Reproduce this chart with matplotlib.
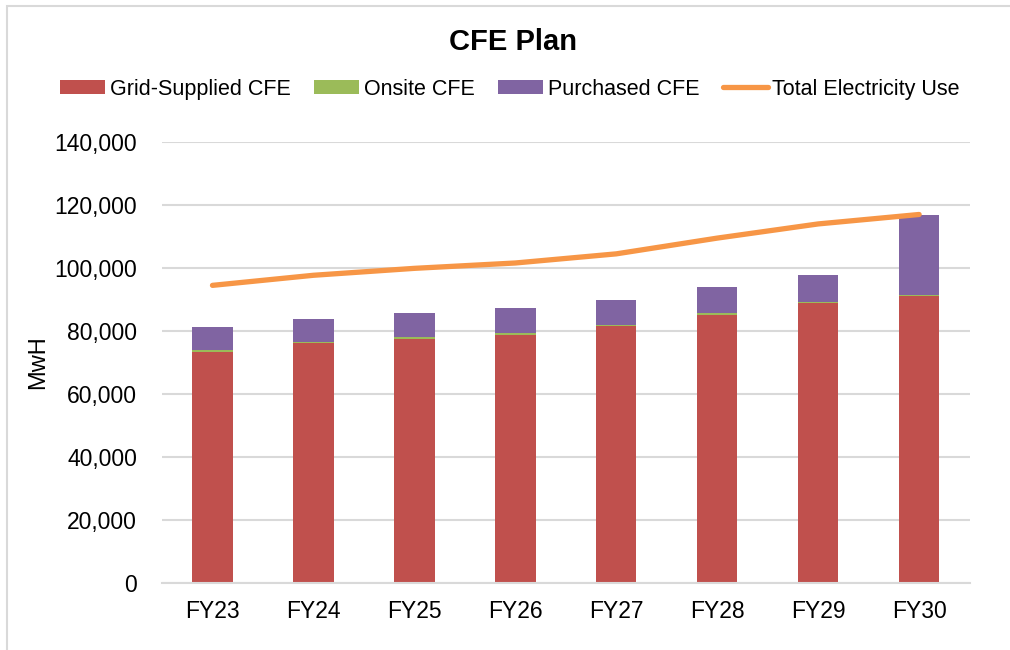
import numpy as np
import matplotlib.pyplot as plt
from matplotlib.patches import Rectangle
from matplotlib.ticker import FuncFormatter

plt.rcParams['font.family'] = ['Liberation Sans', 'DejaVu Sans']

years = ["FY23", "FY24", "FY25", "FY26", "FY27", "FY28", "FY29", "FY30"]
grid_cfe = [73500, 76300, 77600, 78800, 81700, 85100, 88900, 91100]
onsite_cfe = [400, 200, 400, 500, 200, 500, 200, 200]
purchased_cfe = [7400, 7400, 7600, 7900, 7900, 8500, 8600, 25600]
total_use = [94500, 97700, 99900, 101600, 104500, 109500, 114000, 117000]

fig = plt.figure(figsize=(10.1, 6.5), dpi=100)
ax = fig.add_axes([0.1604, 0.103, 0.7996, 0.6785])

# chart frame
fig.patches.append(Rectangle((7 / 1010, -0.01), 1.0, 1 - 6 / 650 + 0.01, transform=fig.transFigure,
                             fill=False, edgecolor='#D9D9D9', linewidth=1.5))

x = np.arange(len(years))
w = 0.4
grid_a = np.array(grid_cfe)
onsite_a = np.array(onsite_cfe)
b1 = ax.bar(x, grid_cfe, w, color='#C0504D', label='Grid-Supplied CFE', zorder=2)
b2 = ax.bar(x, onsite_cfe, w, bottom=grid_a, color='#9BBB59', label='Onsite CFE', zorder=2)
b3 = ax.bar(x, purchased_cfe, w, bottom=grid_a + onsite_a, color='#8064A2', label='Purchased CFE', zorder=2)
l1, = ax.plot(x, total_use, color='#F79646', linewidth=3.8, label='Total Electricity Use',
              solid_capstyle='round', zorder=3)

ax.set_xlim(-0.5, 7.5)
ax.set_ylim(0, 140000)
ax.set_yticks(range(0, 140001, 20000))
ax.yaxis.set_major_formatter(FuncFormatter(lambda v, p: f"{int(v):,}"))
ax.set_xticks(x)
ax.set_xticklabels(years)
ax.tick_params(axis='both', length=0, labelsize=16.5, labelcolor='#000000')
ax.tick_params(axis='y', pad=18)
ax.tick_params(axis='x', pad=12)
ax.grid(axis='y', color='#D9D9D9', linewidth=1.5, zorder=0)
ax.set_axisbelow(True)
for s in ['top', 'right', 'left']:
    ax.spines[s].set_visible(False)
ax.spines['bottom'].set_color('#D9D9D9')
ax.spines['bottom'].set_linewidth(1.5)
ax.set_ylabel("MwH", fontsize=17)
ax.yaxis.set_label_coords(-0.14, 0.5)

fig.text(0.508, 0.935, "CFE Plan", ha='center', va='center', fontsize=21, fontweight='bold')
fig.legend([b1, b2, b3, l1], [h.get_label() for h in [b1, b2, b3, l1]],
           loc='center', bbox_to_anchor=(0.505, 0.863), ncol=4, frameon=False, fontsize=15.5,
           handlelength=2.1, handleheight=0.6, handletextpad=0.2, columnspacing=1.1)

fig.savefig("out.png", dpi=100)
